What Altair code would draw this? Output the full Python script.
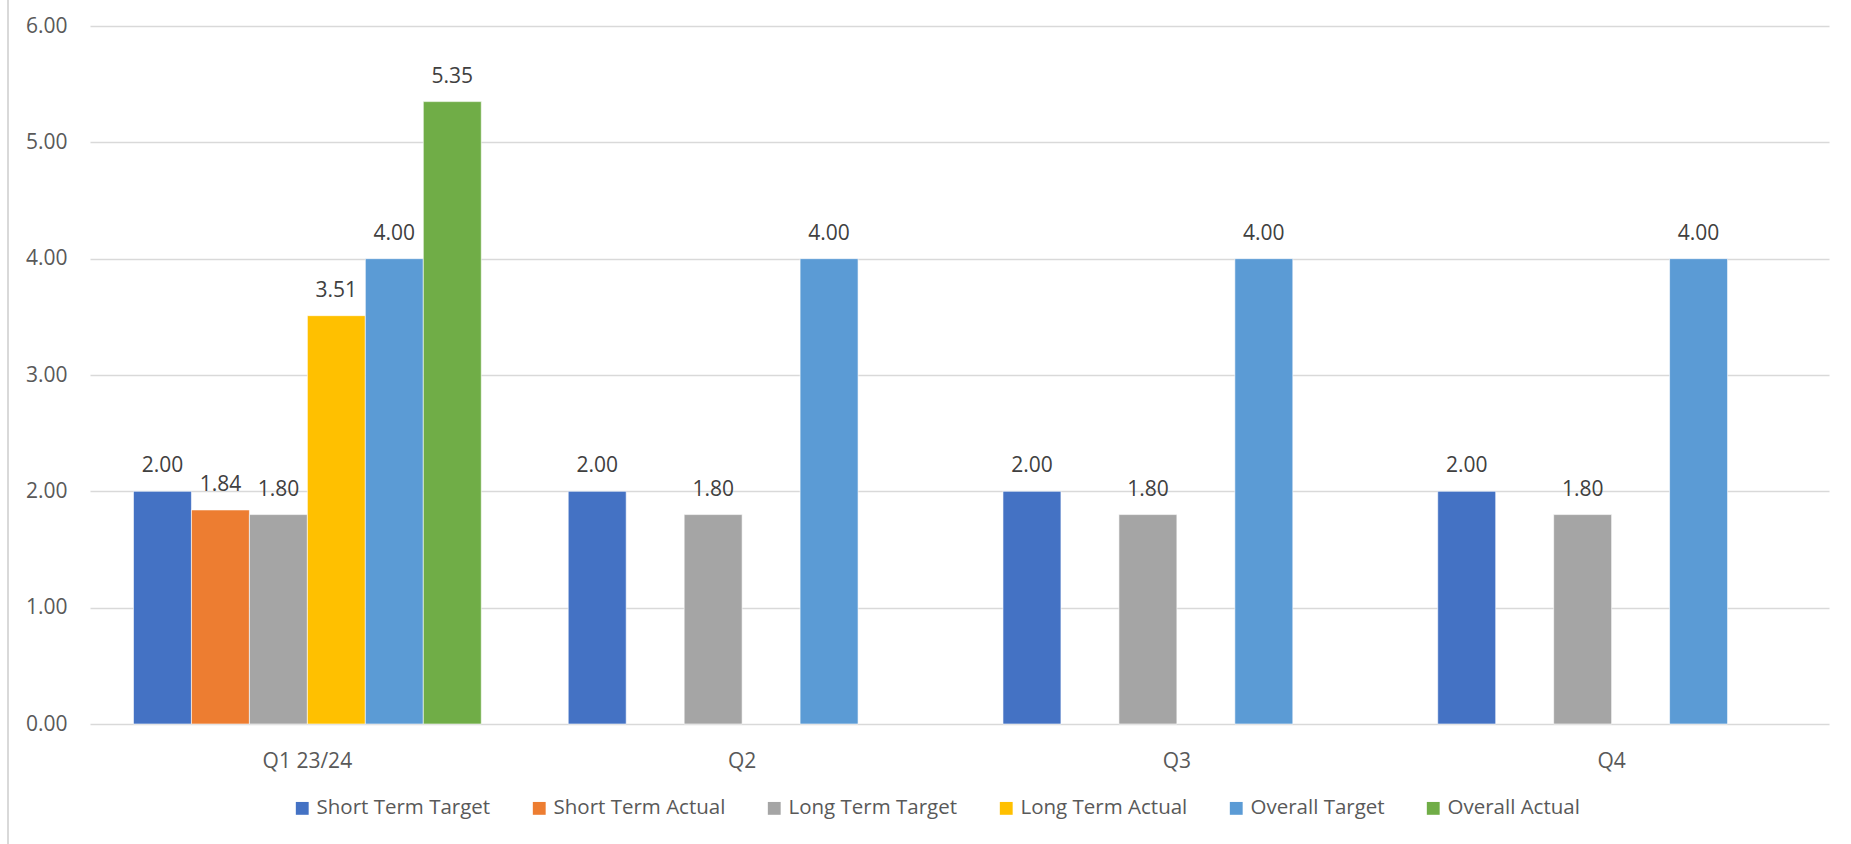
import altair as alt
import pandas as pd

quarters = ["Q1 23/24", "Q2", "Q3", "Q4"]
series = ["Short Term Target", "Short Term Actual", "Long Term Target",
          "Long Term Actual", "Overall Target", "Overall Actual"]
colors = ["#4472C4", "#ED7D31", "#A5A5A5", "#FFC000", "#5B9BD5", "#70AD47"]

short_target = [2.00, 2.00, 2.00, 2.00]
short_actual = [1.84, None, None, None]
long_target = [1.80, 1.80, 1.80, 1.80]
long_actual = [3.51, None, None, None]
overall_target = [4.00, 4.00, 4.00, 4.00]
overall_actual = [5.35, None, None, None]

values = [short_target, short_actual, long_target, long_actual, overall_target, overall_actual]
rows = []
for s, vals in zip(series, values):
    for q, v in zip(quarters, vals):
        if v is not None:
            rows.append({"Quarter": q, "Series": s, "Value": v})
df = pd.DataFrame(rows)

FONT = "Open Sans"
TXT = "#595959"
FS = 21

x = alt.X("Quarter:N", sort=quarters, title=None,
          scale=alt.Scale(paddingInner=0.2, paddingOuter=0.1),
          axis=alt.Axis(labelAngle=0, domain=False, ticks=False, grid=False, labelPadding=26,
                        labelFontSize=FS, labelColor=TXT, labelFont=FONT))
xo = alt.XOffset("Series:N", sort=series, scale=alt.Scale(domain=series, paddingInner=0, paddingOuter=0))
y = alt.Y("Value:Q", title=None,
          scale=alt.Scale(domain=[0, 6], nice=False),
          axis=alt.Axis(values=[0, 1, 2, 3, 4, 5, 6], format=".2f", domain=False, ticks=False,
                        labelPadding=23, labelFontSize=FS, labelColor=TXT, labelFont=FONT,
                        gridColor="#d9d9d9", gridWidth=1.5))

bars = alt.Chart(df).mark_bar(stroke="white", strokeWidth=0.6).encode(
    x=x, xOffset=xo, y=y,
    color=alt.Color("Series:N", sort=series,
                    scale=alt.Scale(domain=series, range=colors),
                    legend=alt.Legend(title=None, orient="none", direction="horizontal",
                                      legendX=202, legendY=772, symbolType="square",
                                      symbolSize=165, symbolStrokeWidth=0, labelLimit=0,
                                      labelFontSize=20.5, labelColor=TXT, labelFont=FONT,
                                      labelOffset=4, columnPadding=38)),
)

labels = alt.Chart(df).mark_text(baseline="bottom", dy=-15, fontSize=FS, font=FONT, color="#404040").encode(
    x=x, xOffset=xo, y=y,
    text=alt.Text("Value:Q", format=".2f"),
)

border = alt.Chart(df).mark_rule(color="#d9d9d9", strokeWidth=2).encode(
    x=alt.value(-82), y=alt.value(-26), y2=alt.value(818)
)

chart = alt.layer(bars, labels, border).properties(
    width=1739, height=698,
    background="white",
    autosize=alt.AutoSizeParams(type="none"),
    padding={"left": 90, "top": 26, "right": 22, "bottom": 120},
).configure_view(strokeWidth=0, stroke="transparent")

chart.save("out.html", embed_options={"renderer": "svg", "actions": False})
